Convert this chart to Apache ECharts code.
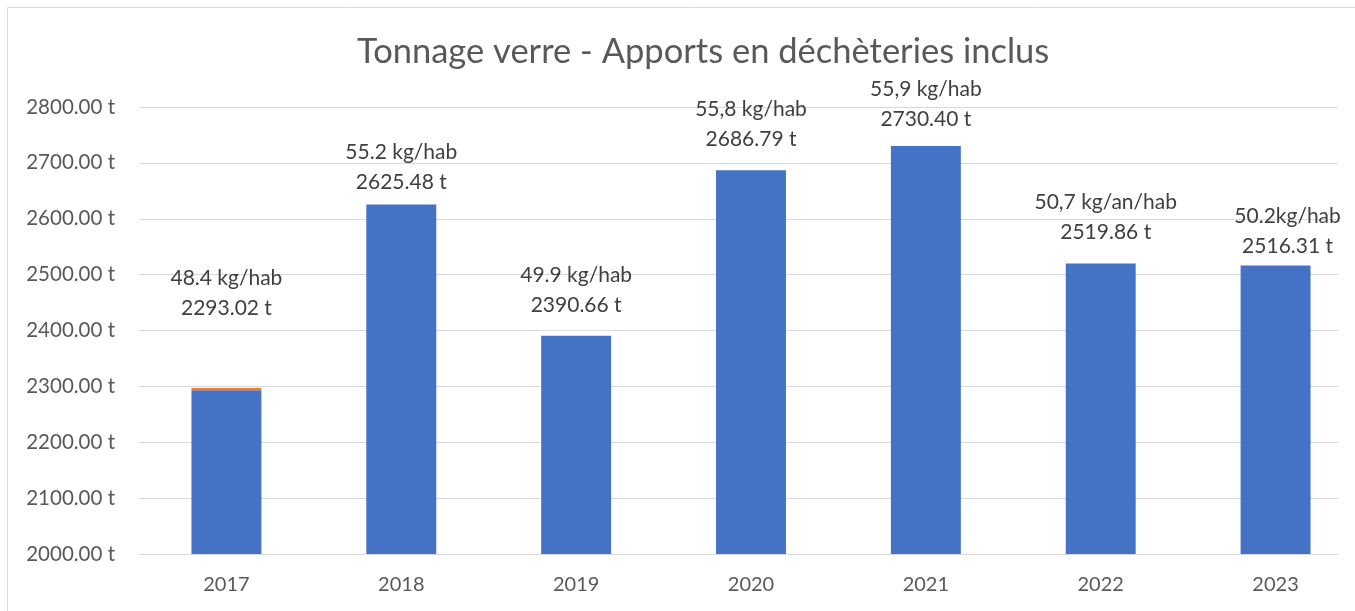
<!DOCTYPE html>
<html>
<head>
<meta charset="utf-8">
<script src="https://cdn.jsdelivr.net/npm/echarts@6/dist/echarts.min.js"></script>
<style>
  html, body { margin: 0; padding: 0; background: #fff; overflow: hidden; }
  /* le graphique d'origine est rogné à droite : zone un peu plus large que la fenêtre */
  #chart { width: 1375px; height: 611px; }
</style>
</head>
<body>
<div id="chart"></div>
<script>
// années
var years = ['2017', '2018', '2019', '2020', '2021', '2022', '2023'];
// tonnage verre (t)
var tonnage = [2293.02, 2625.48, 2390.66, 2686.79, 2730.40, 2519.86, 2516.31];
// petit segment orange visible sur 2017
var extra = [4, 0, 0, 0, 0, 0, 0];
// ratio par habitant, tel qu'écrit sur le graphique
var perHab = ['48.4 kg/hab', '55.2 kg/hab', '49.9 kg/hab', '55,8 kg/hab', '55,9 kg/hab', '50,7 kg/an/hab', '50.2kg/hab'];
// décalage des étiquettes (placées à la main dans l'original)
var labelShift = [[0, -62], [0, -2], [0, -10], [0, -11], [0, -7], [5, -11], [12, 1]];

var FONT = 'Lato, "Noto Sans", sans-serif';

var chart = echarts.init(document.getElementById('chart'));

var blueData = tonnage.map(function (v, i) {
    return {
        value: v,
        label: {
            offset: labelShift[i],
            formatter: perHab[i] + '\n' + v.toFixed(2) + ' t'
        }
    };
});

var option = {
    backgroundColor: '#fff',
    animation: false,
    title: {
        text: 'Tonnage verre - Apports en déchèteries inclus',
        left: 352,
        top: 29,
        textStyle: {
            fontFamily: FONT,
            fontSize: 34.5,
            fontWeight: 'normal',
            color: '#595959'
        }
    },
    graphic: [
        {
            type: 'rect',
            z: -10,
            shape: { x: 7.5, y: 7.5, width: 1400, height: 700 },
            style: { fill: '#fff', stroke: '#d9d9d9', lineWidth: 1 }
        },
        {
            // coupe les lignes de grille à droite comme dans l'original
            type: 'rect',
            z: 1,
            shape: { x: 1338, y: 90, width: 40, height: 470 },
            style: { fill: '#fff' }
        }
    ],
    grid: {
        left: 139,
        right: 12,
        top: 107,
        bottom: 57,
        containLabel: false
    },
    xAxis: {
        type: 'category',
        data: years,
        axisLine: { lineStyle: { color: '#d9d9d9', width: 1 } },
        axisTick: { show: false },
        axisLabel: {
            fontFamily: FONT,
            fontSize: 20,
            color: '#595959',
            margin: 21
        }
    },
    yAxis: {
        type: 'value',
        min: 2000,
        max: 2800,
        interval: 100,
        axisLine: { show: false },
        axisTick: { show: false },
        splitLine: { lineStyle: { color: '#d9d9d9', width: 1 } },
        axisLabel: {
            fontFamily: FONT,
            fontSize: 20.5,
            color: '#595959',
            margin: 24,
            formatter: function (v) { return v.toFixed(2) + ' t'; }
        }
    },
    series: [
        {
            name: 'Verre',
            type: 'bar',
            stack: 'total',
            barCategoryGap: '60%',
            itemStyle: { color: '#4472C4' },
            label: {
                show: true,
                position: 'top',
                distance: 5,
                fontFamily: FONT,
                fontSize: 21,
                lineHeight: 30,
                color: '#404040'
            },
            data: blueData
        },
        {
            name: 'Autre',
            type: 'bar',
            stack: 'total',
            itemStyle: { color: '#ED7D31' },
            data: extra
        }
    ]
};

chart.setOption(option);
</script>
</body>
</html>
